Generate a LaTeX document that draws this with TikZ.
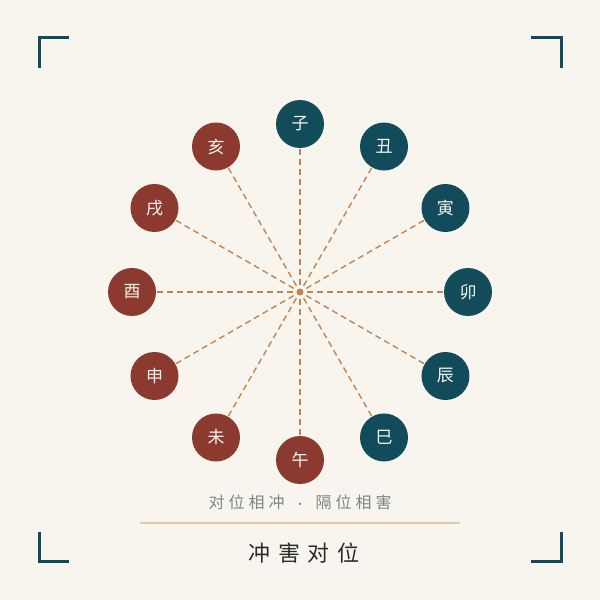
\documentclass[tikz,border=0pt]{standalone}
\usepackage{fontspec}
\newfontfamily\cjk{Noto Sans CJK SC}
\newfontfamily\cjkwide[LetterSpace=25]{Noto Sans CJK SC}
\newfontfamily\cjktitle[LetterSpace=35]{Noto Sans CJK SC}
\definecolor{paper}{HTML}{F7F5EE}
\definecolor{teal}{HTML}{124B5A}
\definecolor{rust}{HTML}{8C3A30}
\definecolor{ochre}{HTML}{C48450}
\definecolor{sand}{HTML}{DCCBAA}
\definecolor{slate}{HTML}{7C8486}
\definecolor{ink}{HTML}{2A2A2A}
\tikzset{
  branch/.style={circle, minimum size=48pt, inner sep=0pt, text=paper, font=\cjk\fontsize{17}{17}\selectfont},
  yang/.style={branch, fill=teal},
  yin/.style={branch, fill=rust},
  spoke/.style={ochre, dash pattern=on 6pt off 4pt, line width=1.4pt},
  corner/.style={teal, line width=3pt}
}
\begin{document}
\begin{tikzpicture}[x=1pt,y=1pt]

\fill [paper] (0,0) rectangle (600,600);
\useasboundingbox (0,0) rectangle (600,600);

% corner marks
\draw [corner] (39,532) -- (39,562) -- (69,562);
\draw [corner] (531,562) -- (561,562) -- (561,532);
\draw [corner] (39,68) -- (39,38) -- (69,38);
\draw [corner] (531,38) -- (561,38) -- (561,68);

% the twelve branches
\node [circle, minimum size=14pt, inner sep=0pt] (c) at (300,308) {};
\fill [ochre] (c) circle (3.5pt);
\path (c) +(90:168) node [yang] (zi) {子};
\path (c) +(60:168) node [yang] (chou) {丑};
\path (c) +(30:168) node [yang] (yin) {寅};
\path (c) +(0:168) node [yang] (mao) {卯};
\path (c) +(-30:168) node [yang] (chen) {辰};
\path (c) +(-60:168) node [yang] (si) {巳};
\path (c) +(-90:168) node [yin] (wu) {午};
\path (c) +(-120:168) node [yin] (wei) {未};
\path (c) +(-150:168) node [yin] (shen) {申};
\path (c) +(180:168) node [yin] (you) {酉};
\path (c) +(150:168) node [yin] (xu) {戌};
\path (c) +(120:168) node [yin] (hai) {亥};

\draw [spoke] (c) -- (zi);
\draw [spoke] (c) -- (chou);
\draw [spoke] (c) -- (yin);
\draw [spoke] (c) -- (mao);
\draw [spoke] (c) -- (chen);
\draw [spoke] (c) -- (si);
\draw [spoke] (c) -- (wu);
\draw [spoke] (c) -- (wei);
\draw [spoke] (c) -- (shen);
\draw [spoke] (c) -- (you);
\draw [spoke] (c) -- (xu);
\draw [spoke] (c) -- (hai);

% captions
\node [text=slate, font=\cjkwide\fontsize{16}{16}\selectfont] (sub) at (300,98) {对位相冲\hspace{10pt}{\cjk\fontsize{11}{11}\selectfont ·}\hspace{10pt}隔位相害};
\coordinate (ruleL) at (140,77);
\coordinate (ruleR) at (460,77);
\draw [sand, line width=1.5pt] (ruleL) -- (ruleR);
\node [text=ink, font=\cjktitle\fontsize{22}{22}\selectfont] (title) at (304,47) {冲害对位};

\end{tikzpicture}
\end{document}
